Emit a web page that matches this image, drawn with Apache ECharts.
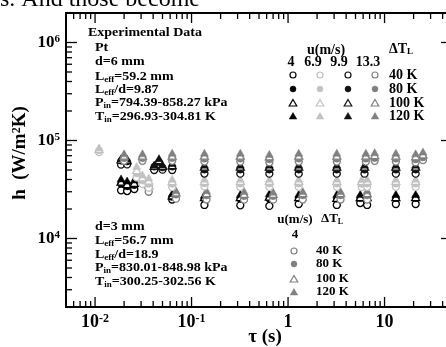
<!DOCTYPE html>
<html><head><meta charset="utf-8">
<script src="https://cdn.jsdelivr.net/npm/echarts/dist/echarts.min.js"></script>
<style>html,body{margin:0;padding:0;background:#fff}#c{width:446px;height:347px}</style>
</head><body><div id="c"></div>
<script>
// ---------------- axis ranges & ticks ----------------
const X_MIN = 0.005, X_MAX = 50;
const Y_MIN = 2000, Y_MAX = 2000000;
const xMajorTicks = [0.01, 0.1, 1, 10];
const xMinorTicks = [0.006,0.007,0.008,0.009,0.02,0.03,0.04,0.05,0.06,0.07,0.08,0.09,
  0.2,0.3,0.4,0.5,0.6,0.7,0.8,0.9,2,3,4,5,6,7,8,9,20,30,40];
const yMajorTicks = [1e4, 1e5, 1e6];
const yMinorTicks = [3000,4000,5000,6000,7000,8000,9000,20000,30000,40000,50000,60000,70000,80000,90000,
  200000,300000,400000,500000,600000,700000,800000,900000];
const xTickLabels = {'-2':'10{s|-2}', '-1':'10{s|-1}', '0':'{b|1}', '1':'{b|10}'};
const yTickLabels = {'4':'10{s|4}', '5':'10{s|5}', '6':'10{s|6}'};

// ---------------- data: d = 6 mm ----------------
// u = 4 m/s (black)
const tau_u4   = [0.0186, 0.0215, 0.0255, 0.063, 0.136, 0.32, 0.64, 1.29, 3.2, 5.6, 6.6, 13.1, 21];
const h_u4_40  = [31000, 30500, 32000, 25000, 22000, 21800, 21500, 22500, 22000, 23000, 22000, 22500, 22500];
const h_u4_80  = [36000, 34000, 35000, 26500, 25500, 25500, 25500, 25800, 25500, 25800, 25800, 25800, 25800];
const h_u4_100 = [38000, 36000, 37000, 27500, 26500, 26500, 26800, 26500, 26000, 26500, 26500, 26500, 26500];
const h_u4_120 = [41000, 39000, 40000, 29000, 28000, 28500, 29000, 28500, 28500, 28500, 28500, 28500, 28500];
// u = 6.9 m/s (light gray)
const tau_u69   = [0.011, 0.027, 0.031, 0.036, 0.063, 0.136, 0.32, 0.64, 1.29, 3.2, 5.8, 6.6, 13.1, 21];
const h_u69_40  = [76000, 42000, 36000, 33000, 33500, 34000, 33700, 33700, 33700, 33700, 33500, 33700, 33700, 33700];
const h_u69_80  = [79000, 46000, 39000, 36000, 36000, 36500, 36200, 36200, 36200, 36200, 36000, 36200, 36200, 36200];
const h_u69_100 = [82000, 50000, 42000, 39000, 38500, 38800, 38800, 38800, 38800, 38800, 38500, 38800, 38800, 38800];
const h_u69_120 = [85000, 55000, 45000, 42000, 40800, 40800, 40800, 40800, 40800, 40800, 40500, 40800, 40800, 40800];
// u = 9.9 m/s (black)
const tau_u99   = [0.0186, 0.0215, 0.041, 0.046, 0.05, 0.063, 0.136, 0.32, 0.64, 1.29, 3.2, 6.2, 13.1, 21];
const h_u99_40  = [56700, 57000, 50000, 57000, 50400, 50000, 46000, 45900, 45900, 45900, 45900, 45900, 45900, 45900];
const h_u99_80  = [62000, 61000, 54000, 60000, 53000, 54000, 50400, 50400, 50400, 50400, 50400, 50400, 50400, 50400];
const h_u99_100 = [64000, 63000, 55000, 63000, 55000, 56000, 54000, 54000, 54000, 54000, 54000, 54000, 54000, 54000];
const h_u99_120 = [66000, 65000, 56500, 66000, 57000, 59000, 56700, 56700, 56700, 56700, 56700, 56700, 56700, 56700];
// u = 13.3 m/s (gray)
const tau_u133   = [0.02, 0.031, 0.063, 0.136, 0.32, 0.64, 1.29, 3.2, 6.4, 7.9, 13.1, 21, 25];
const h_u133_40  = [62000, 62000, 62000, 61000, 61000, 60000, 61000, 61000, 61000, 62000, 61000, 60000, 63000];
const h_u133_80  = [66000, 66000, 66000, 65000, 65000, 64000, 65000, 65000, 65000, 66000, 65000, 64000, 67000];
const h_u133_100 = [70000, 70000, 70000, 70000, 70000, 69000, 70000, 70000, 70000, 71000, 70000, 69000, 72000];
const h_u133_120 = [74000, 74000, 75000, 75000, 75000, 73000, 75000, 75000, 75000, 76000, 75000, 74000, 77000];
// ---------------- data: d = 3 mm, u = 4 m/s (gray) ----------------
const tau_d3     = [0.036, 0.069, 0.143, 0.35, 0.70, 1.42, 3.5, 6.6];
const h_d3_40    = [30000, 25500, 25000, 24900, 24900, 25000, 25000, 25000];
const h_d3_80    = [33000, 28000, 27500, 27000, 27000, 27500, 27500, 27500];
const h_d3_100   = [35000, 29500, 29000, 28500, 28500, 29000, 29000, 29000];
const h_d3_120   = [37000, 31000, 31000, 30500, 30000, 30500, 30500, 31000];

// ---------------- styles ----------------
const C_BLACK = '#000', C_LIGHT = '#c2c2c2', C_DARK = '#111', C_GRAY = '#808080';
const FONT = '"Liberation Serif", "Times New Roman", serif';

function pts(t, h) { return t.map((v, i) => [v, h[i]]); }
function sc(name, t, h, color, shape, open) {
  return {
    type: 'scatter', name, data: pts(t, h),
    symbol: shape, symbolSize: shape === 'triangle' ? [8, 7] : [7, 7],
    itemStyle: open ? {color: '#fff', borderColor: color, borderWidth: 1.3, opacity: 1}
                    : {color: color, borderColor: color, borderWidth: 0.5, opacity: 1},
    silent: true, z: 3
  };
}
const groups = [
  ['u4', tau_u4, [h_u4_40, h_u4_80, h_u4_100, h_u4_120], C_BLACK],
  ['d3', tau_d3, [h_d3_40, h_d3_80, h_d3_100, h_d3_120], C_GRAY],
  ['u69', tau_u69, [h_u69_40, h_u69_80, h_u69_100, h_u69_120], C_LIGHT],
  ['u99', tau_u99, [h_u99_40, h_u99_80, h_u99_100, h_u99_120], C_DARK],
  ['u133', tau_u133, [h_u133_40, h_u133_80, h_u133_100, h_u133_120], C_GRAY]
];
const series = [];
groups.forEach(g => {
  series.push(sc(g[0]+'_40K', g[1], g[2][0], g[3], 'circle', true));
  series.push(sc(g[0]+'_80K', g[1], g[2][1], g[3], 'circle', false));
  series.push(sc(g[0]+'_100K', g[1], g[2][2], g[3], 'triangle', true));
  series.push(sc(g[0]+'_120K', g[1], g[2][3], g[3], 'triangle', false));
});

// tick marks (log minor ticks) drawn through the axes' scales
series.push({
  type: 'custom', coordinateSystem: 'cartesian2d', silent: true, z: 10, clip: false,
  data: xMajorTicks.map(v => [v, Y_MIN, 1]).concat(xMinorTicks.map(v => [v, Y_MIN, 0])),
  renderItem(params, api) {
    const v = api.value(0), L = api.value(2) ? 10 : 6;
    const b = api.coord([v, Y_MIN]), t = api.coord([v, Y_MAX]);
    const st = {stroke: '#000', lineWidth: 1.3};
    return {type: 'group', children: [
      {type: 'line', shape: {x1: b[0], y1: b[1], x2: b[0], y2: b[1] - L}, style: st},
      {type: 'line', shape: {x1: t[0], y1: t[1], x2: t[0], y2: t[1] + L}, style: st}
    ]};
  }
});
series.push({
  type: 'custom', coordinateSystem: 'cartesian2d', silent: true, z: 10, clip: false,
  data: yMajorTicks.map(v => [X_MIN, v, 1]).concat(yMinorTicks.map(v => [X_MIN, v, 0])),
  renderItem(params, api) {
    const v = api.value(1), L = api.value(2) ? 11 : 6;
    const l = api.coord([X_MIN, v]), r = api.coord([X_MAX, v]);
    const st = {stroke: '#000', lineWidth: 1.3};
    return {type: 'group', children: [
      {type: 'line', shape: {x1: l[0], y1: l[1], x2: l[0] + L, y2: l[1]}, style: st},
      {type: 'line', shape: {x1: r[0], y1: r[1], x2: r[0] - L, y2: r[1]}, style: st}
    ]};
  }
});

function expKey(v) { const e = Math.log10(v); const r = Math.round(e); return Math.abs(e - r) < 1e-6 ? String(r) : null; }

// ---------------- annotation texts ----------------
function txt(x, y, text, size, extra) {
  return Object.assign({
    type: 'text', x, y, silent: true, z: 20,
    style: Object.assign({text, fill: '#000', font: 'bold ' + size + 'px ' + FONT,
      verticalAlign: 'middle',
      rich: {n: {fontSize: size, fontWeight: 'bold', fontFamily: FONT},
             s: {fontSize: Math.round(size*0.62), fontWeight: 'bold', fontFamily: FONT, verticalAlign: 'bottom'}}},
      extra && extra.style || {})
  }, extra && extra.el || {});
}
const topBlock = ['{n|Pt}', '{n|d=6 mm}', '{n|L}{s|eff}{n|=59.2 mm}', '{n|L}{s|eff}{n|/d=9.87}',
  '{n|P}{s|in}{n|=794.39-858.27 kPa}', '{n|T}{s|in}{n|=296.93-304.81 K}'];
const botBlock = ['{n|d=3 mm}', '{n|L}{s|eff}{n|=56.7 mm}', '{n|L}{s|eff}{n|/d=18.9}',
  '{n|P}{s|in}{n|=830.01-848.98 kPa}', '{n|T}{s|in}{n|=300.25-302.56 K}'];
const uLabels = ['4', '6.9', '9.9', '13.3'];
const dtLabels = ['40 K', '80 K', '100 K', '120 K'];

const graphics = [];
graphics.push({type: 'text', x: 0, y: 12, silent: true,
  style: {text: 's. And those become', font: '24px ' + FONT, fill: '#000', verticalAlign: 'bottom'}});
const blockEl = {el: {scaleX: 1.12}};
graphics.push(txt(88, 33, '{n|Experimental Data}', 12.5, blockEl));
[48, 62, 77, 90, 103, 117].forEach((y, i) => graphics.push(txt(95, y, topBlock[i], 12.5, blockEl)));
[227, 241, 255, 268, 282].forEach((y, i) => graphics.push(txt(95, y, botBlock[i], 12.5, blockEl)));
// top legend
graphics.push(txt(326, 50, '{n|u(m/s)}', 14, {style: {align: 'center'}}));
graphics.push(txt(389, 49, '{n|ΔT}{s|L}', 14));
[291, 313, 339, 368].forEach((x, i) => graphics.push(txt(x, 62, '{n|' + uLabels[i] + '}', 14, {style: {align: 'center'}})));
[75, 89, 103, 116].forEach((y, i) => graphics.push(txt(389, y, '{n|' + dtLabels[i] + '}', 14)));
const legCols = [[293, C_BLACK], [320, C_LIGHT], [348, C_DARK], [375, C_GRAY]];
const legRows = [75, 89, 103, 116];
function legSym(cx, cy, color, row) {
  const open = row === 0 || row === 2;
  const style = open ? {fill: '#fff', stroke: color, lineWidth: 1.2} : {fill: color, stroke: color, lineWidth: 0.5};
  if (row < 2) return {type: 'circle', shape: {cx, cy, r: 3}, style, silent: true, z: 20};
  return {type: 'polygon', shape: {points: [[cx, cy - 3.5], [cx + 3.8, cy + 3], [cx - 3.8, cy + 3]]}, style, silent: true, z: 20};
}
legCols.forEach(c => legRows.forEach((y, r) => graphics.push(legSym(c[0], y, c[1], r))));
// bottom legend
graphics.push(txt(295, 220, '{n|u(m/s)}', 13, {style: {align: 'center'}}));
graphics.push(txt(321, 219, '{n|ΔT}{s|L}', 13));
graphics.push(txt(295, 235, '{n|4}', 13, {style: {align: 'center'}}));
[251, 264, 279, 292].forEach((y, r) => {
  graphics.push(legSym(294, y, C_GRAY, r));
  graphics.push(txt(316, y, '{n|' + dtLabels[r] + '}', 13));
});

const chart = echarts.init(document.getElementById('c'), null, {renderer: 'canvas'});
chart.setOption({
  animation: false,
  backgroundColor: '#fff',
  grid: {left: 66, top: 13, width: 386, height: 294, show: true, borderColor: '#000', borderWidth: 2,
    containLabel: false, outerBoundsMode: 'none'},
  xAxis: {
    type: 'log', logBase: 10, min: X_MIN, max: X_MAX,
    axisLine: {show: true, lineStyle: {color: '#000', width: 2}}, axisTick: {show: false}, splitLine: {show: false},
    axisLabel: {margin: 6, color: '#000', showMinLabel: false, showMaxLabel: false,
      formatter: v => { const k = expKey(v); return k && xTickLabels[k] ? xTickLabels[k] : ''; },
      rich: {b: {fontSize: 18, fontWeight: 'bold', fontFamily: FONT, verticalAlign: 'bottom'},
             s: {fontSize: 12, fontWeight: 'bold', fontFamily: FONT, verticalAlign: 'top'}},
      fontSize: 18, fontWeight: 'bold', fontFamily: FONT},
    name: 'τ (s)', nameLocation: 'middle', nameGap: 21, nameMoveOverlap: false,
    nameTextStyle: {fontSize: 19, fontWeight: 'bold', fontFamily: FONT, color: '#000', padding: [0, 0, 0, 12]}
  },
  yAxis: {
    type: 'log', logBase: 10, min: Y_MIN, max: Y_MAX,
    axisLine: {show: true, lineStyle: {color: '#000', width: 2}}, axisTick: {show: false}, splitLine: {show: false},
    axisLabel: {margin: 6, color: '#000', showMinLabel: false, showMaxLabel: false,
      formatter: v => { const k = expKey(v); return k && yTickLabels[k] ? yTickLabels[k] : ''; },
      rich: {s: {fontSize: 11, fontWeight: 'bold', fontFamily: FONT, verticalAlign: 'top'}},
      fontSize: 17, fontWeight: 'bold', fontFamily: FONT},
    name: 'h  (W/m{s|2}K)', nameLocation: 'middle', nameGap: 36, nameMoveOverlap: false,
    nameTextStyle: {fontSize: 19, fontWeight: 'bold', fontFamily: FONT, color: '#000', padding: [0, 0, 0, 14],
      rich: {s: {fontSize: 12, fontWeight: 'bold', fontFamily: FONT, verticalAlign: 'top'}}}
  },
  series,
  graphic: graphics
});
</script>
</body></html>
